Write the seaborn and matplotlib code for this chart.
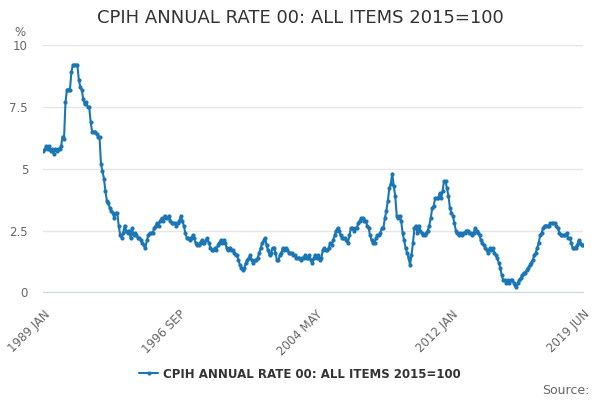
import numpy as np
import pandas as pd
import matplotlib
matplotlib.use('Agg')
import matplotlib.pyplot as plt
import seaborn as sns

title = 'CPIH ANNUAL RATE 00: ALL ITEMS 2015=100'
years = list(range(1989, 2020))
month_names = ['JAN', 'FEB', 'MAR', 'APR', 'MAY', 'JUN',
               'JUL', 'AUG', 'SEP', 'OCT', 'NOV', 'DEC']

# monthly annual rate (%), one row per year, Jan 1989 - Jun 2019
cpih_rate = [
    5.7, 5.8, 5.9, 5.8, 5.9, 5.7, 5.8, 5.6, 5.8, 5.7, 5.8, 5.8,  # 1989
    5.9, 6.3, 6.2, 7.7, 8.2, 8.2, 8.2, 8.9, 9.2, 9.2, 9.2, 9.2,  # 1990
    8.6, 8.3, 8.2, 7.8, 7.6, 7.7, 7.5, 7.5, 6.9, 6.5, 6.5, 6.5,  # 1991
    6.4, 6.3, 6.3, 5.2, 4.9, 4.6, 4.1, 3.7, 3.6, 3.4, 3.3, 3.2,  # 1992
    3.0, 3.2, 3.2, 2.7, 2.3, 2.2, 2.4, 2.7, 2.5, 2.4, 2.5, 2.2,  # 1993
    2.6, 2.3, 2.4, 2.3, 2.2, 2.2, 2.1, 2.0, 1.9, 1.8, 2.1, 2.3,  # 1994
    2.4, 2.4, 2.4, 2.6, 2.7, 2.8, 2.7, 2.9, 3.0, 2.9, 3.1, 3.0,  # 1995
    3.0, 3.1, 2.9, 2.8, 2.8, 2.8, 2.7, 2.8, 2.9, 3.1, 2.9, 2.7,  # 1996
    2.4, 2.2, 2.2, 2.1, 2.2, 2.3, 2.2, 2.0, 1.9, 1.9, 2.0, 2.1,  # 1997
    2.0, 2.0, 2.1, 2.2, 2.0, 1.8, 1.7, 1.7, 1.8, 1.7, 1.9, 2.0,  # 1998
    2.1, 2.0, 2.1, 2.0, 1.8, 1.7, 1.8, 1.7, 1.7, 1.6, 1.5, 1.5,  # 1999
    1.3, 1.1, 1.0, 0.9, 1.0, 1.2, 1.3, 1.4, 1.5, 1.3, 1.2, 1.3,  # 2000
    1.3, 1.4, 1.6, 1.8, 2.0, 2.1, 2.2, 1.9, 1.7, 1.5, 1.6, 1.8,  # 2001
    1.8, 1.6, 1.3, 1.3, 1.5, 1.6, 1.8, 1.7, 1.8, 1.7, 1.6, 1.6,  # 2002
    1.6, 1.5, 1.5, 1.4, 1.4, 1.4, 1.3, 1.4, 1.4, 1.5, 1.4, 1.4,  # 2003
    1.5, 1.3, 1.2, 1.4, 1.5, 1.4, 1.5, 1.3, 1.4, 1.7, 1.8, 1.7,  # 2004
    1.7, 1.8, 2.0, 1.9, 2.1, 2.3, 2.5, 2.6, 2.5, 2.3, 2.2, 2.2,  # 2005
    2.2, 2.1, 2.0, 2.3, 2.6, 2.6, 2.5, 2.6, 2.6, 2.8, 2.9, 3.0,  # 2006
    3.0, 2.9, 2.9, 2.7, 2.6, 2.3, 2.1, 2.0, 2.0, 2.2, 2.3, 2.3,  # 2007
    2.4, 2.6, 2.6, 3.0, 3.3, 3.7, 4.2, 4.4, 4.8, 4.3, 3.9, 3.1,  # 2008
    3.0, 3.1, 2.9, 2.4, 2.1, 1.8, 1.6, 1.4, 1.1, 1.5, 2.0, 2.6,  # 2009
    2.7, 2.4, 2.7, 2.5, 2.4, 2.3, 2.3, 2.4, 2.5, 2.7, 3.0, 3.4,  # 2010
    3.5, 3.8, 3.8, 3.8, 4.0, 3.8, 4.1, 4.5, 4.5, 4.2, 3.9, 3.4,  # 2011
    3.2, 3.1, 2.8, 2.5, 2.4, 2.3, 2.4, 2.3, 2.4, 2.4, 2.5, 2.5,  # 2012
    2.4, 2.4, 2.3, 2.4, 2.6, 2.5, 2.4, 2.3, 2.1, 2.0, 1.9, 1.8,  # 2013
    1.7, 1.6, 1.8, 1.7, 1.8, 1.6, 1.5, 1.4, 1.2, 1.0, 0.7, 0.5,  # 2014
    0.5, 0.4, 0.5, 0.4, 0.5, 0.5, 0.4, 0.3, 0.2, 0.4, 0.5, 0.6,  # 2015
    0.7, 0.8, 0.8, 0.9, 1.0, 1.1, 1.2, 1.3, 1.5, 1.6, 1.8, 2.0,  # 2016
    2.3, 2.4, 2.6, 2.7, 2.7, 2.7, 2.7, 2.8, 2.8, 2.8, 2.8, 2.7,  # 2017
    2.6, 2.4, 2.3, 2.3, 2.3, 2.3, 2.4, 2.2, 2.2, 2.0, 1.8, 1.8,  # 2018
    1.8, 1.9, 2.1, 2.0, 1.9, 1.9,                                # 2019
]

y_ticks = [0, 2.5, 5, 7.5, 10]
y_tick_labels = ['0', '2.5', '5', '7.5', '10']

periods = [f'{y} {m}' for y in years for m in month_names][:len(cpih_rate)]
df = pd.DataFrame({'period': periods, 'rate': cpih_rate})
df['idx'] = np.arange(len(df))
n = len(df) - 1

blue = '#1a76b4'
grey = '#666666'

sns.set_style('white')
plt.rcParams['font.family'] = ['DejaVu Sans']

fig = plt.figure(figsize=(6, 4), dpi=100)
ax = fig.add_axes([0.0722, 0.269, 0.8995, 0.6185])

sns.lineplot(data=df, x='idx', y='rate', ax=ax, color=blue, linewidth=1.5,
             marker='o', markersize=3, markeredgewidth=0, legend=False)

ax.set_xlim(0, n)
ax.set_ylim(0, 10)
ax.set_xlabel('')
ax.set_ylabel('')

# category axis: tick every 23 months, label every 4th tick plus the last
tick_pos = list(range(0, n, 23)) + [n]
label_pos = [0, 92, 184, 276, n]
ax.set_xticks(tick_pos)
ax.set_xticklabels([periods[p] if p in label_pos else '' for p in tick_pos],
                   rotation=45, ha='right', rotation_mode='anchor',
                   color=grey, fontsize=8.5)
ax.tick_params(axis='x', length=9, color='#ccd6eb', width=1, pad=2)

ax.set_yticks(y_ticks)
ax.set_yticklabels(y_tick_labels, color=grey, fontsize=8.5)
ax.tick_params(axis='y', length=0, pad=11)

ax.yaxis.grid(True, color='#e6e6e6', linewidth=1)
ax.xaxis.grid(False)
for s in ['left', 'top', 'right']:
    ax.spines[s].set_visible(False)
ax.spines['bottom'].set_color('#ccd6eb')

fig.text(0.5, 1 - 18 / 400, title, ha='center', va='center',
         fontsize=13, color='#333333')
fig.text(14 / 600, 1 - 32 / 400, '%', ha='left', va='center',
         fontsize=8.5, color=grey)

handle = plt.Line2D([], [], color=blue, linewidth=1.5, marker='o',
                    markersize=3, markeredgewidth=0)
leg = fig.legend([handle], [title], loc='center', bbox_to_anchor=(0.5, 1 - 374 / 400),
                 frameon=False, prop={'weight': 'bold', 'size': 8.5},
                 handlelength=1.6, handletextpad=0.4)
for t in leg.get_texts():
    t.set_color('#333333')

fig.text(0.983, 1 - 390 / 400, 'Source:', ha='right', va='center',
         fontsize=9, color=grey)

fig.savefig('out.png', dpi=100)
